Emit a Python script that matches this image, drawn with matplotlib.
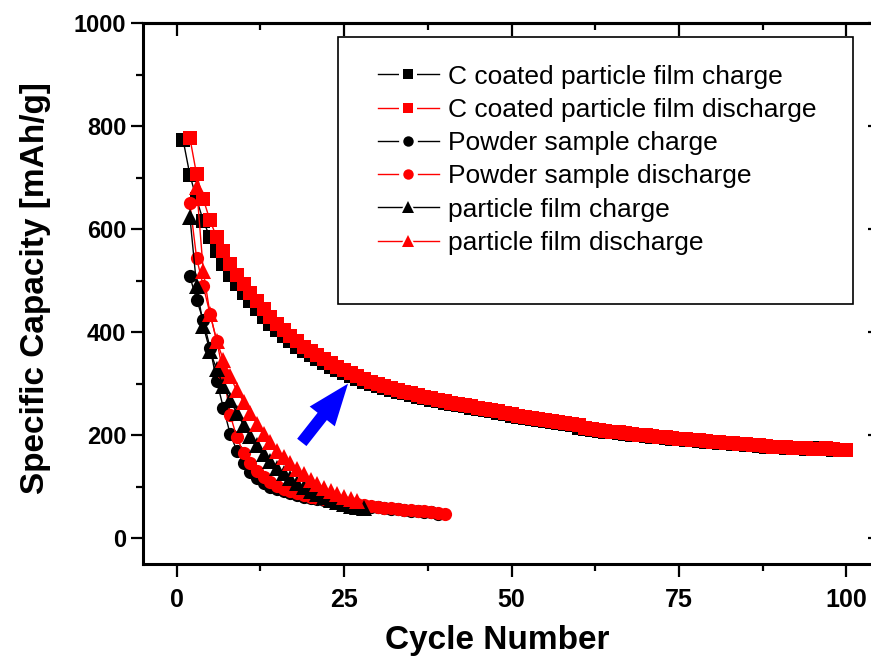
import matplotlib
matplotlib.use("Agg")
import matplotlib.pyplot as plt
from matplotlib.patches import Rectangle
from matplotlib.lines import Line2D
from matplotlib.legend_handler import HandlerTuple
from matplotlib.ticker import MultipleLocator

plt.rcParams['font.family'] = ['Liberation Sans', 'DejaVu Sans']

# ---- data ----
cc_charge_x = list(range(1, 100))
cc_charge_y = [772, 705, 658, 616, 584, 557, 533, 511, 493, 476,
               460, 445, 430, 416, 404, 393, 382, 372, 363, 355,
               347, 340, 333, 326, 320, 314, 309, 304, 299, 295,
               291, 287, 284, 281, 278, 275, 272, 269, 266, 263,
               261, 258, 256, 253, 251, 248, 246, 243, 241, 238,
               236, 234, 232, 230, 228, 226, 224, 222, 220, 214,
               212, 211, 209, 207, 206, 204, 203, 201, 200, 198,
               197, 196, 194, 193, 192, 191, 190, 188, 187, 186,
               185, 184, 183, 182, 181, 180, 179, 178, 178, 177,
               176, 175, 175, 174, 174, 175, 174, 172, 171]
cc_dis_x = list(range(2, 101))
cc_dis_y = [777, 706, 658, 617, 584, 557, 533, 511, 493, 476,
            460, 445, 430, 416, 404, 393, 382, 372, 363, 355,
            347, 340, 333, 326, 320, 314, 309, 304, 299, 295,
            291, 287, 284, 281, 278, 275, 272, 269, 266, 263,
            261, 258, 256, 253, 251, 248, 246, 243, 241, 238,
            236, 234, 232, 230, 228, 226, 224, 222, 220, 214,
            212, 211, 209, 207, 206, 204, 203, 201, 200, 198,
            197, 196, 194, 193, 192, 191, 190, 188, 187, 186,
            185, 184, 183, 182, 181, 180, 179, 178, 178, 177,
            176, 175, 175, 174, 174, 175, 174, 172, 171]

pw_charge_x = list(range(2, 40))
pw_charge_y = [508, 463, 423, 370, 305, 253, 203, 170, 146, 128,
               116, 107, 100, 95, 91, 87, 84, 81, 78, 76,
               74, 72, 70, 68, 66, 64, 62, 61, 60, 58,
               57, 56, 54, 53, 52, 51, 50, 48]
pw_dis_x = list(range(2, 41))
pw_dis_y = [650, 544, 489, 436, 383, 320, 240, 196, 166, 146,
            130, 118, 109, 102, 96, 91, 88, 84, 81, 78,
            76, 74, 72, 70, 68, 66, 64, 62, 61, 59,
            58, 57, 55, 54, 53, 52, 50, 49, 47]

pf_charge_x = list(range(2, 29))
pf_charge_y = [624, 490, 412, 363, 328, 296, 268, 243, 220, 199,
               180, 164, 150, 137, 126, 116, 107, 99, 92, 86,
               80, 75, 70, 66, 62, 60, 58]
pf_dis_x = list(range(3, 28))
pf_dis_y = [682, 518, 436, 383, 346, 314, 287, 265, 244, 222,
            202, 186, 170, 157, 146, 134, 124, 114, 106, 98,
            91, 86, 81, 77, 72]

labels = ["C coated particle film charge", "C coated particle film discharge",
          "Powder sample charge", "Powder sample discharge",
          "particle film charge", "particle film discharge"]

arrow_tail = (18.7, 186)
arrow_tip = (25.6, 300)

# ---- figure ----
fig = plt.figure(figsize=(8.71, 6.59), dpi=100)
ax = fig.add_axes([143/871, 95/659, 737/871, 541/659])

ms = 9.5
series = [
    (cc_charge_x, cc_charge_y, 'black', 's', ms),
    (cc_dis_x, cc_dis_y, 'red', 's', ms),
    (pw_charge_x, pw_charge_y, 'black', 'o', ms),
    (pw_dis_x, pw_dis_y, 'red', 'o', ms),
    (pf_charge_x, pf_charge_y, 'black', '^', ms + 1.5),
    (pf_dis_x, pf_dis_y, 'red', '^', ms + 1.5),
]
handles = []
for (x, y, c, m, s), lab in zip(series, labels):
    ax.plot(x, y, color=c, marker=m, markersize=s, linewidth=1.0,
            markeredgewidth=0)
    lm = 7.5 if m != '^' else 8.5
    h_line = Line2D([], [], color=c, linewidth=1.0)
    h_gap = Line2D([], [], linestyle='none', marker=m, markersize=lm + 6,
                   markerfacecolor='white', markeredgewidth=0)
    h_mark = Line2D([], [], linestyle='none', marker=m, markersize=lm,
                    markerfacecolor=c, markeredgewidth=0)
    handles.append((h_line, h_gap, h_mark))

ax.annotate('', xy=arrow_tip, xytext=arrow_tail,
            arrowprops=dict(arrowstyle='simple,head_length=3.0,head_width=2.3,tail_width=0.85',
                            color='blue', mutation_scale=10, shrinkA=0, shrinkB=0, lw=0))

ax.set_xlim(-5, 105)
ax.set_ylim(-50, 1000)
ax.xaxis.set_major_locator(MultipleLocator(25))
ax.xaxis.set_minor_locator(MultipleLocator(12.5))
ax.yaxis.set_major_locator(MultipleLocator(200))
ax.yaxis.set_minor_locator(MultipleLocator(100))

for sp in ax.spines.values():
    sp.set_linewidth(2.2)

ax.tick_params(which='both', direction='out', width=1.6, top=False, right=False)
ax.tick_params(which='major', length=9)
ax.tick_params(which='minor', length=5)
ax.tick_params(axis='y', labelsize=17, pad=3)
ax.tick_params(axis='x', labelsize=18, pad=8)
for t in ax.get_xticklabels() + ax.get_yticklabels():
    t.set_fontweight('bold')

# inward ticks on top and right
sec_x = ax.secondary_xaxis('top')
sec_x.xaxis.set_major_locator(MultipleLocator(25))
sec_x.xaxis.set_minor_locator(MultipleLocator(12.5))
sec_x.tick_params(which='both', direction='in', width=1.6, labeltop=False)
sec_x.tick_params(which='major', length=9)
sec_x.tick_params(which='minor', length=5)
sec_x.spines['top'].set_linewidth(2.2)
sec_y = ax.secondary_yaxis('right')
sec_y.yaxis.set_major_locator(MultipleLocator(200))
sec_y.yaxis.set_minor_locator(MultipleLocator(100))
sec_y.tick_params(which='both', direction='in', width=1.6, labelright=False)
sec_y.tick_params(which='major', length=9)
sec_y.tick_params(which='minor', length=5)

ax.set_xlabel('Cycle Number', fontsize=24, fontweight='bold')
ax.set_ylabel('Specific Capacity [mAh/g]', fontsize=24, fontweight='bold')
ax.xaxis.set_label_coords(0.481, -0.142, transform=ax.transAxes)
ax.yaxis.set_label_coords(-0.146, 0.51, transform=ax.transAxes)
ax.xaxis.label.set_va('center')
ax.yaxis.label.set_va('center')

# legend frame
ax.add_patch(Rectangle((0.2646, 0.4806), 0.963 - 0.2646, 0.974 - 0.4806,
                       transform=ax.transAxes, fill=True, facecolor='white',
                       edgecolor='black', linewidth=1.2, zorder=4))
leg = ax.legend(handles=handles, labels=labels, loc='upper left',
                bbox_to_anchor=(0.319, 0.923),
                handler_map={tuple: HandlerTuple(ndivide=1)},
                frameon=False, fontsize=19, handlelength=2.3, handletextpad=0.35,
                labelspacing=0.35, borderpad=0, borderaxespad=0)
leg.set_zorder(5)

fig.savefig('out.png', dpi=100)
